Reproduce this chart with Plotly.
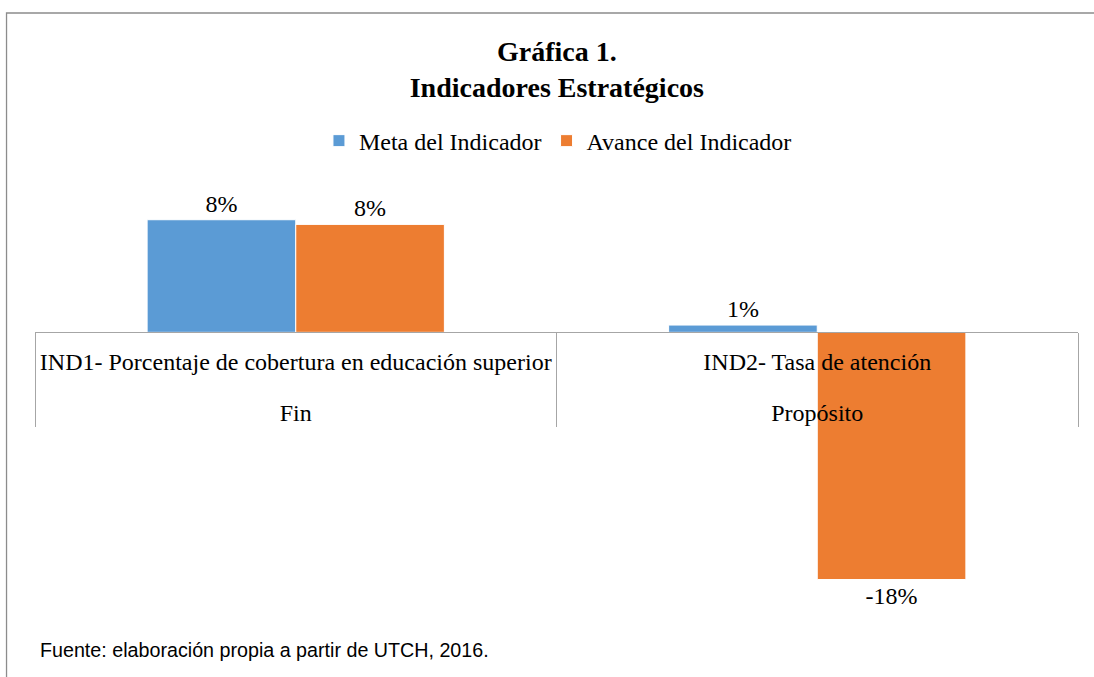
import plotly.graph_objects as go

# ---- data ----
niveles = ["Fin", "Propósito"]
indicadores = ["IND1- Porcentaje de cobertura en educación superior",
               "IND2- Tasa de atención"]
meta = [0.082, 0.0053]
avance = [0.0786, -0.18]
meta_labels = ["8%", "1%"]
avance_labels = ["8%", "-18%"]
series_names = ["Meta del Indicador", "Avance del Indicador"]

SERIF = "Liberation Serif, Times New Roman, serif"
SANS = "Liberation Sans, Arial, sans-serif"

# inner category labels get an empty trailing line so the outer level sits lower
inner_ticks = [t + "<br>\u00a0" for t in indicadores]

fig = go.Figure()
fig.add_trace(go.Bar(
    x=[niveles, inner_ticks], y=meta, name=series_names[0],
    marker=dict(color="#5B9BD5", line=dict(color="white", width=1)),
    text=meta_labels, textposition="outside", cliponaxis=False,
    textfont=dict(family=SERIF, size=24, color="black"),
))
fig.add_trace(go.Bar(
    x=[niveles, inner_ticks], y=avance, name=series_names[1],
    marker=dict(color="#ED7D31", line=dict(color="white", width=1)),
    text=avance_labels, textposition="outside", cliponaxis=False,
    textfont=dict(family=SERIF, size=24, color="black"),
))

fig.update_layout(
    width=1094, height=677,
    margin=dict(l=35, r=16, t=195, b=70),
    paper_bgcolor="white", plot_bgcolor="white",
    barmode="group", bargap=0.43, bargroupgap=0,
    title=dict(text="<b>Gráfica 1.<br>Indicadores Estratégicos</b>",
               x=0.509, xanchor="center", y=1 - 61 / 677, yanchor="middle",
               font=dict(family=SERIF, size=28, color="black")),
    legend=dict(orientation="h", x=0.5014, xanchor="center", y=1.131, yanchor="middle",
                font=dict(family=SERIF, size=24, color="black"),
                itemwidth=30, tracegroupgap=0, traceorder="normal"),
    font=dict(family=SERIF, size=24, color="black"),
    showlegend=True,
)
fig.update_yaxes(range=[-0.2, 0.1], visible=False, showgrid=False, zeroline=False)
fig.update_xaxes(
    type="multicategory", anchor="free", position=2 / 3,
    showline=True, linecolor="#A6A6A6", linewidth=1.3,
    showdividers=True, dividercolor="#A6A6A6", dividerwidth=1.3,
    ticks="", tickangle=0, showgrid=False,
    tickfont=dict(family=SERIF, size=24, color="black"),
    ticklabelstandoff=8,
)

# outer frame of the chart
fig.add_shape(type="rect", xref="paper", yref="paper",
              x0=-0.0273, x1=1.05, y0=-0.3, y1=1.4417,
              line=dict(color="#8C8C8C", width=1.3), fillcolor="rgba(0,0,0,0)",
              layer="below")

fig.add_annotation(text="Fuente: elaboración propia a partir de UTCH, 2016.",
                   xref="paper", yref="paper", x=0.003, y=(607 - 650) / 412,
                   xanchor="left", yanchor="middle", showarrow=False,
                   font=dict(family=SANS, size=19.7, color="black"))

fig.write_html("out.html", config={"displayModeBar": False},
               post_script="document.body.style.margin='0';")
